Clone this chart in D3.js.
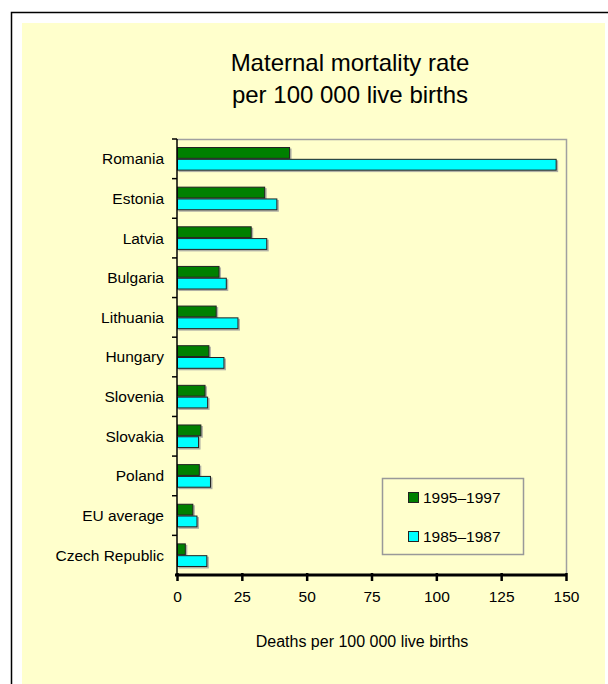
<!DOCTYPE html>
<html>
<head>
<meta charset="utf-8">
<script src="https://cdn.jsdelivr.net/npm/d3@7"></script>
<style>
  html, body { margin: 0; padding: 0; background: #ffffff; }
  svg { display: block; font-family: "Liberation Sans", Arial, sans-serif; }
</style>
</head>
<body>
<svg id="chart" width="608" height="684"></svg>
<script>
// Maternal mortality per 100 000 live births, two periods
const countries = ["Romania", "Estonia", "Latvia", "Bulgaria", "Lithuania", "Hungary",
                   "Slovenia", "Slovakia", "Poland", "EU average", "Czech Republic"];
const series = ["1995–1997", "1985–1987"];
const rate1995 = [43.6, 34.0, 28.8, 16.4, 15.3, 12.5, 11.0, 9.4, 8.8, 6.3, 3.4];
const rate1985 = [146.4, 38.7, 34.8, 19.2, 23.7, 18.3, 12.0, 8.5, 13.1, 7.9, 11.7];
const xTicks = [0, 25, 50, 75, 100, 125, 150];
const colors = ["#008000", "#00ffff"];

const rows = countries.map((c, i) => ({ country: c, values: [rate1995[i], rate1985[i]] }));

const svg = d3.select("#chart");

// outer frame and panel background
svg.append("rect").attr("x", 11.5).attr("y", 12.5).attr("width", 700).attr("height", 700)
  .attr("fill", "#ffffff").attr("stroke", "#000").attr("stroke-width", 1.5);
svg.append("rect").attr("x", 22).attr("y", 23).attr("width", 583).attr("height", 661)
  .attr("fill", "#ffffcc");

// title
const title = svg.append("text").attr("text-anchor", "middle").attr("font-size", 24).attr("fill", "#000");
title.append("tspan").attr("x", 350).attr("y", 71).text("Maternal mortality rate");
title.append("tspan").attr("x", 350).attr("y", 103).text("per 100 000 live births");

const plotL = 177, plotR = 566, plotT = 139, plotB = 575;

const x = d3.scaleLinear().domain([0, 150]).range([plotL, plotR]);
const y0 = d3.scaleBand().domain(countries).range([plotT, plotB]).padding(0);
const y1 = d3.scaleBand().domain(series).range([0, y0.bandwidth()])
  .paddingInner(0).paddingOuter(0.68);

// plot frame (top and right)
svg.append("path")
  .attr("d", `M${plotL},${plotT + 0.5}H${plotR + 0.5}V${plotB}`)
  .attr("fill", "none").attr("stroke", "#a0a0a0").attr("stroke-width", 1.5);

// bars with a small drop shadow
const groups = svg.append("g").selectAll("g").data(rows).join("g")
  .attr("transform", d => `translate(0,${y0(d.country)})`);

groups.selectAll("rect.shadow").data(d => d.values.map((v, k) => ({ v, k })))
  .join("rect").attr("class", "shadow")
  .attr("x", x(0) + 1.5)
  .attr("y", d => y1(series[d.k]) + 1.5)
  .attr("width", d => x(d.v) - x(0))
  .attr("height", y1.bandwidth())
  .attr("fill", "#b0b0a4");

groups.selectAll("rect.bar").data(d => d.values.map((v, k) => ({ v, k })))
  .join("rect").attr("class", "bar")
  .attr("x", x(0) + 0.5)
  .attr("y", d => y1(series[d.k]) + 0.5)
  .attr("width", d => x(d.v) - x(0) - 1)
  .attr("height", y1.bandwidth() - 1)
  .attr("fill", d => colors[d.k])
  .attr("stroke", "#222").attr("stroke-width", 1);

// category axis
const yAxis = svg.append("g").attr("transform", `translate(${plotL},0)`);
yAxis.append("line").attr("x1", 0).attr("x2", 0).attr("y1", plotT).attr("y2", plotB)
  .attr("stroke", "#000").attr("stroke-width", 1.5);
yAxis.selectAll("line.tick").data(countries).join("line").attr("class", "tick")
  .attr("x1", -5).attr("x2", 0)
  .attr("y1", d => y0(d)).attr("y2", d => y0(d))
  .attr("stroke", "#000").attr("stroke-width", 1.5);
yAxis.selectAll("text").data(countries).join("text")
  .attr("x", -13).attr("y", d => y0(d) + y0.bandwidth() / 2).attr("dy", "0.35em")
  .attr("text-anchor", "end").attr("font-size", 15.5).attr("fill", "#000")
  .text(d => d);

// value axis
const xAxis = svg.append("g").attr("transform", `translate(0,${plotB})`)
  .call(d3.axisBottom(x).tickValues(xTicks).tickSize(6).tickPadding(10).tickFormat(d3.format("d")));
xAxis.select(".domain").attr("stroke", "#000").attr("stroke-width", 3)
  .attr("d", `M${plotL - 2},0H${plotR + 1}`);
xAxis.selectAll(".tick line").attr("stroke", "#000").attr("stroke-width", 2.5).attr("y1", -2);
xAxis.selectAll(".tick text").attr("font-size", 15.5).attr("fill", "#000")
  .attr("font-family", "'Liberation Sans', Arial, sans-serif");

svg.append("text").attr("x", 362).attr("y", 647).attr("text-anchor", "middle")
  .attr("font-size", 16).attr("fill", "#000").text("Deaths per 100 000 live births");

// legend
const legend = svg.append("g");
legend.append("rect").attr("x", 382.5).attr("y", 478.5).attr("width", 141).attr("height", 76)
  .attr("fill", "none").attr("stroke", "#999").attr("stroke-width", 1.5);
const items = legend.selectAll("g").data(series).join("g")
  .attr("transform", (d, i) => `translate(408,${492 + i * 39})`);
items.append("rect").attr("x", 0.5).attr("y", 0.5).attr("width", 10).attr("height", 10)
  .attr("fill", (d, i) => colors[i]).attr("stroke", "#222");
items.append("text").attr("x", 15).attr("y", 11).attr("font-size", 15.5).attr("fill", "#000")
  .text(d => d);
</script>
</body>
</html>
